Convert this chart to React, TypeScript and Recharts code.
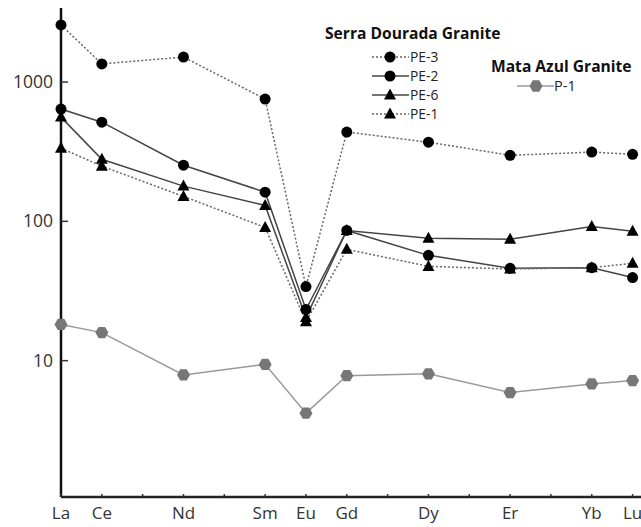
import { LineChart, Line, XAxis, YAxis, Legend } from "recharts";

// REE positions on the x axis (Pr, Pm, Tb, Ho, Tm left out)
const tickNames = ["La", "Ce", "", "Nd", "", "Sm", "Eu", "Gd", "", "Dy", "", "Er", "", "Yb", "Lu"];
const elements = ["La", "Ce", "Nd", "Sm", "Eu", "Gd", "Dy", "Er", "Yb", "Lu"];
const yTicks = [10, 100, 1000];

const pe3 = [2570, 1350, 1510, 755, 34, 437, 370, 298, 314, 303];
const pe2 = [640, 515, 253, 162, 23.3, 86, 57, 46, 46.5, 39.5];
const pe6 = [560, 279, 179, 130, 20.4, 86, 75.5, 74.5, 92, 85];
const pe1 = [335, 249, 151, 90.5, 19, 63, 47.5, 45.5, 46.5, 50];
const p1 = [18.2, 15.9, 7.9, 9.4, 4.2, 7.8, 8.05, 5.9, 6.8, 7.2];

const data = elements.map((el, i) => ({
  x: tickNames.indexOf(el),
  el,
  pe3: pe3[i],
  pe2: pe2[i],
  pe6: pe6[i],
  pe1: pe1[i],
  p1: p1[i],
}));

type Shape = "circle" | "triangle" | "hexagon";

const sdSeries = [
  { key: "pe3", name: "PE-3", shape: "circle" as Shape, dash: "2 2" },
  { key: "pe2", name: "PE-2", shape: "circle" as Shape, dash: undefined },
  { key: "pe6", name: "PE-6", shape: "triangle" as Shape, dash: undefined },
  { key: "pe1", name: "PE-1", shape: "triangle" as Shape, dash: "2 2" },
];

const font = "'Open Sans', sans-serif";

function Marker({ cx, cy, shape, fill }: { cx: number; cy: number; shape: Shape; fill: string }) {
  if (cx == null || cy == null) return null;
  if (shape === "circle") return <circle cx={cx} cy={cy} r={5.5} fill={fill} />;
  if (shape === "triangle")
    return <polygon points={`${cx},${cy - 6.5} ${cx + 6},${cy + 4.5} ${cx - 6},${cy + 4.5}`} fill={fill} />;
  const r = 6.5;
  const pts = [0, 60, 120, 180, 240, 300]
    .map((a) => `${cx + r * Math.cos((a * Math.PI) / 180)},${cy + r * Math.sin((a * Math.PI) / 180)}`)
    .join(" ");
  return <polygon points={pts} fill={fill} />;
}

const XTick = (props: any) => {
  const { x, y, payload } = props;
  return (
    <g>
      <line x1={x} x2={x} y1={y - 3} y2={y} stroke="#333" strokeWidth={1.5} />
      <text x={x} y={y + 22} textAnchor="middle" fontSize={17} fill="#333" fontFamily={font}>
        {tickNames[payload.value]}
      </text>
    </g>
  );
};

const YTick = (props: any) => {
  const { x, y, payload } = props;
  return (
    <g>
      <line x1={x} x2={x + 7} y1={y} y2={y} stroke="#333" strokeWidth={1.5} />
      <text x={x - 8} y={y + 6} textAnchor="end" fontSize={17.5} fill="#333" fontFamily={font}>
        {payload.value}
      </text>
    </g>
  );
};

const LegendBox = () => (
  <svg width={641} height={130} style={{ display: "block" }}>
    <text x={325} y={39} fontSize={15.6} fontWeight={700} fill="#111" fontFamily={font}>
      Serra Dourada Granite
    </text>
    {sdSeries.map((s, i) => {
      const y = 57 + i * 19;
      return (
        <g key={s.key}>
          <line x1={372} x2={409} y1={y} y2={y} stroke={s.dash ? "#666" : "#444"} strokeWidth={1.5} strokeDasharray={s.dash} />
          <Marker cx={390} cy={y} shape={s.shape} fill="#000" />
          <text x={410} y={y + 5} fontSize={13.8} fill="#222" fontFamily={font}>
            {s.name}
          </text>
        </g>
      );
    })}
    <text x={491} y={72} fontSize={15.6} fontWeight={700} fill="#111" fontFamily={font}>
      Mata Azul Granite
    </text>
    <line x1={517} x2={554} y1={86} y2={86} stroke="#999" strokeWidth={1.5} />
    <Marker cx={536} cy={86} shape="hexagon" fill="#777" />
    <text x={554} y={91} fontSize={14.5} fill="#222" fontFamily={font}>
      P-1
    </text>
  </svg>
);

export default function App() {
  return (
    <div style={{ position: "absolute", left: 0, top: 0, width: 641, height: 527, overflow: "hidden", background: "#fff" }}>
      <LineChart width={680} height={527} data={data} margin={{ top: 8, right: 27, left: 0, bottom: 0 }}>
        <XAxis
          dataKey="x"
          type="number"
          domain={[0, 14.5]}
          ticks={tickNames.map((_, i) => i)}
          interval={0}
          height={30}
          tickSize={0}
          tickMargin={0}
          tickLine={false}
          tick={<XTick />}
          axisLine={{ stroke: "#222", strokeWidth: 2.5 }}
        />
        <XAxis
          xAxisId="top"
          orientation="top"
          dataKey="x"
          type="number"
          domain={[0, 14.5]}
          height={0}
          tick={false}
          tickLine={false}
          axisLine={{ stroke: "#333", strokeWidth: 2 }}
        />
        <YAxis
          scale="log"
          domain={[1.05, 3400]}
          allowDataOverflow
          ticks={yTicks}
          width={61}
          tickSize={0}
          tickMargin={0}
          tickLine={false}
          tick={<YTick />}
          axisLine={{ stroke: "#111", strokeWidth: 2.5 }}
        />
        <Legend
          layout="horizontal"
          verticalAlign="middle"
          align="center"
          content={() => <LegendBox />}
          wrapperStyle={{ left: 0, top: 0, width: 641, height: 130 }}
        />
        <Line
          dataKey="p1"
          stroke="#999"
          strokeWidth={1.5}
          isAnimationActive={false}
          dot={(p: any) => <Marker key={`p1-${p.index}`} cx={p.cx} cy={p.cy} shape="hexagon" fill="#777" />}
        />
        {sdSeries.map((s) => (
          <Line
            key={s.key}
            dataKey={s.key}
            stroke={s.dash ? "#666" : "#444"}
            strokeWidth={1.5}
            strokeDasharray={s.dash}
            isAnimationActive={false}
            dot={(p: any) => <Marker key={`${s.key}-${p.index}`} cx={p.cx} cy={p.cy} shape={s.shape} fill="#000" />}
          />
        ))}
      </LineChart>
    </div>
  );
}
